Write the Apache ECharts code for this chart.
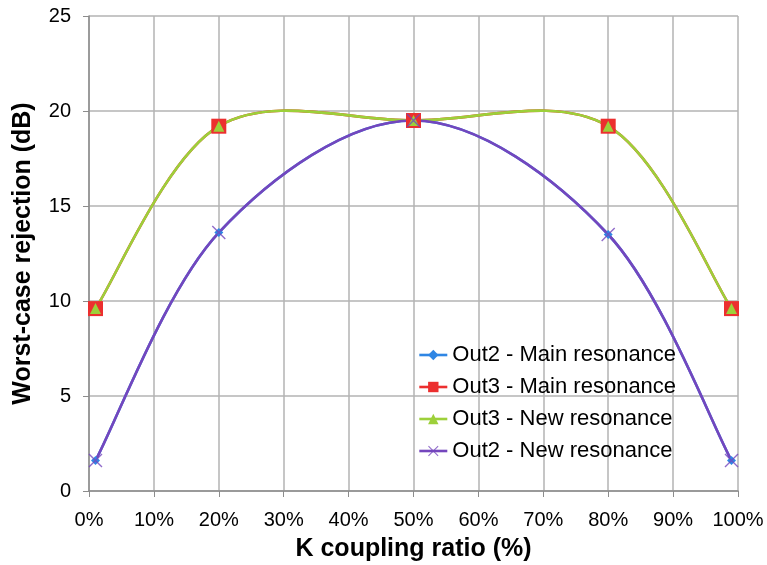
<!DOCTYPE html>
<html><head><meta charset="utf-8">
<script src="https://cdn.jsdelivr.net/npm/echarts@6/dist/echarts.min.js"></script>
<style>html,body{margin:0;padding:0;background:#fff}#c{width:767px;height:565px}</style>
</head><body><div id="c"></div>
<script>
var xPercent = [1, 20, 50, 80, 99];
var out2Main = [1.6, 13.6, 19.5, 13.5, 1.6];
var out3Main = [9.6, 19.2, 19.5, 19.2, 9.6];
var out3New = [9.6, 19.2, 19.5, 19.2, 9.6];
var out2New = [1.6, 13.6, 19.5, 13.5, 1.6];
var seriesNames = ['Out2 - Main resonance', 'Out3 - Main resonance', 'Out3 - New resonance', 'Out2 - New resonance'];
var seriesValues = [out2Main, out3Main, out3New, out2New];
var colors = ['#2f86e4', '#ec2f2f', '#9dd03a', '#7446bd'];

function pairs(v){ return xPercent.map(function(x,i){return [x, v[i]];}); }
var xSym = 'path://M0,0.7L0.7,0L5,4.3L9.3,0L10,0.7L5.7,5L10,9.3L9.3,10L5,5.7L0.7,10L0,9.3L4.3,5Z';
var symbols = ['diamond', 'rect', 'triangle', xSym];
var symbolSizes = [9, 15, 11, 14];
var font = 'Liberation Sans, Arial, sans-serif';

// Excel-like smoothed curve (Catmull-Rom Bezier) drawn through the axes' coordinate system
function curveSeries(idx) {
  var vals = seriesValues[idx];
  return {
    type: 'custom', name: seriesNames[idx] + ' curve', coordinateSystem: 'cartesian2d',
    data: pairs(vals), silent: true, z: 1,
    renderItem: function (params, api) {
      var i = params.dataIndex, n = vals.length;
      if (i >= n - 1) return null;
      function P(k) { k = Math.max(0, Math.min(n - 1, k)); return api.coord([xPercent[k], vals[k]]); }
      var p0 = P(i - 1), p1 = P(i), p2 = P(i + 1), p3 = P(i + 2);
      return {
        type: 'bezierCurve',
        shape: {
          x1: p1[0], y1: p1[1], x2: p2[0], y2: p2[1],
          cpx1: p1[0] + (p2[0] - p0[0]) / 6, cpy1: p1[1] + (p2[1] - p0[1]) / 6,
          cpx2: p2[0] - (p3[0] - p1[0]) / 6, cpy2: p2[1] - (p3[1] - p1[1]) / 6
        },
        style: {stroke: colors[idx], lineWidth: 2.6, fill: null}
      };
    }
  };
}
function markerSeries(idx) {
  return {
    type: 'line', name: seriesNames[idx], data: pairs(seriesValues[idx]), z: 3,
    symbol: symbols[idx], symbolSize: symbolSizes[idx], showSymbol: true,
    color: colors[idx], itemStyle: {color: colors[idx], opacity: idx === 3 ? 0.8 : 1},
    lineStyle: {width: 2.6, opacity: 0}
  };
}
var series = [];
for (var k = 0; k < 4; k++) series.push(curveSeries(k));
for (var k2 = 0; k2 < 4; k2++) series.push(markerSeries(k2));

var chart = echarts.init(document.getElementById('c'));
chart.setOption({
  animation: false,
  grid: {left: 89, right: 29, top: 16, bottom: 74, containLabel: false, outerBoundsMode: 'none'},
  xAxis: {
    type: 'value', min: 0, max: 100, interval: 10,
    name: 'K coupling ratio (%)', nameLocation: 'middle', nameGap: 46,
    nameTextStyle: {fontFamily: font, fontWeight: 'bold', fontSize: 25, color: '#000'},
    axisLine: {lineStyle: {color: '#8c8c8c', width: 1.5}},
    axisTick: {show: true, length: 6, lineStyle: {color: '#8c8c8c'}},
    axisLabel: {formatter: '{value}%', fontFamily: font, fontSize: 20, color: '#000', margin: 19},
    splitLine: {show: true, lineStyle: {color: '#b3b3b3', width: 1.5}}
  },
  yAxis: {
    type: 'value', min: 0, max: 25, interval: 5,
    name: 'Worst-case rejection (dB)', nameLocation: 'middle', nameGap: 53,
    nameTextStyle: {fontFamily: font, fontWeight: 'bold', fontSize: 25, color: '#000'},
    axisLine: {show: true, lineStyle: {color: '#8c8c8c', width: 1.5}},
    axisTick: {show: true, length: 6, lineStyle: {color: '#8c8c8c'}},
    axisLabel: {fontFamily: font, fontSize: 20, color: '#000', margin: 18},
    splitLine: {show: true, lineStyle: {color: '#b3b3b3', width: 1.5}}
  },
  legend: {
    data: seriesNames.map(function (nm, i) {
      return {name: nm, lineStyle: {opacity: 1, width: 2.6, color: colors[i]}};
    }),
    orient: 'vertical', left: 413, top: 339,
    itemGap: 10, itemWidth: 28, itemHeight: 13,
    textStyle: {fontFamily: font, fontSize: 22, color: '#000'}
  },
  series: series
});
</script></body></html>
